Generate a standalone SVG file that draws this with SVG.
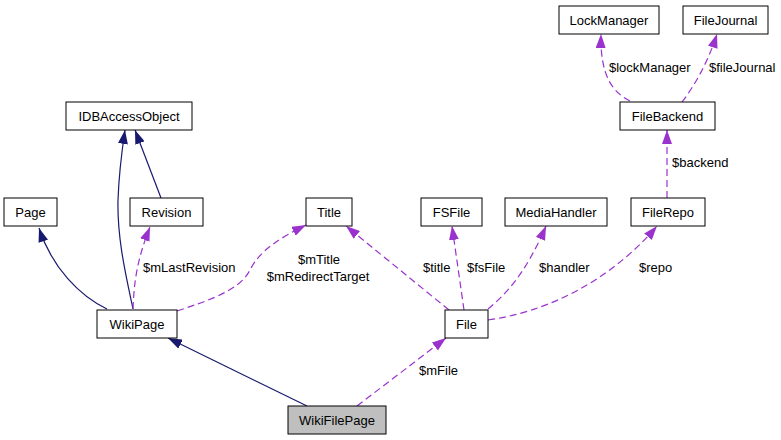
<svg xmlns="http://www.w3.org/2000/svg" width="781" height="440" viewBox="0 0 781 440">
<style>
text{font-family:"Liberation Sans",Arial,sans-serif;font-size:13px;fill:#000}
.n rect{fill:#fff;stroke:#000;stroke-width:1}
.n text{text-anchor:middle}
.inh{fill:none;stroke:#191970;stroke-width:1.2;marker-end:url(#ai)}
.use{fill:none;stroke:#9a32cd;stroke-width:1.2;stroke-dasharray:7,4;marker-end:url(#au)}
</style>
<defs>
<marker id="ai" viewBox="0 0 14 10" refX="14" refY="5" markerWidth="14" markerHeight="10" markerUnits="userSpaceOnUse" orient="auto"><path d="M0,0 L14,5 L0,10 z" fill="#191970"/></marker>
<marker id="au" viewBox="0 0 14 10" refX="14" refY="5" markerWidth="14" markerHeight="10" markerUnits="userSpaceOnUse" orient="auto"><path d="M0,0 L14,5 L0,10 z" fill="#9a32cd"/></marker>
</defs>
<rect width="781" height="440" fill="#fff"/>
<g id="edges">
<path class="inh" d="M107,309 C80,296 52,268 39,228"/>
<path class="inh" d="M133,309 C127,280 117,240 118,200 C119,170 122,150 125,130"/>
<path class="inh" d="M161,198 L135,130"/>
<path class="use" d="M133,309 C134,285 136,262 150,227"/>
<path class="use" d="M177,311 C210,300 240,290 250,270 C260,250 280,238 306,225"/>
<path class="use" d="M449,310 L346,226"/>
<path class="use" d="M464,310 L452,226"/>
<path class="use" d="M488,309 C505,295 525,275 546,226"/>
<path class="use" d="M488,320 C560,310 620,270 657,226"/>
<path class="use" d="M667,198 L667,130"/>
<path class="use" d="M630,101 C612,92 600,75 601,34"/>
<path class="use" d="M682,102 C695,85 708,62 717,34"/>
<path class="inh" d="M307,406 L168,338"/>
<path class="use" d="M357,406 L446,338"/>
<text x="609" y="71.5">$lockManager</text>
<text x="709" y="71.5">$fileJournal</text>
<text x="672" y="167">$backend</text>
<text x="143" y="272">$mLastRevision</text>
<text x="319" y="263.5" text-anchor="middle">$mTitle</text>
<text x="318" y="280.5" text-anchor="middle">$mRedirectTarget</text>
<text x="423" y="271.5">$title</text>
<text x="467" y="271.5">$fsFile</text>
<text x="539" y="271.5">$handler</text>
<text x="639" y="271.5">$repo</text>
<text x="419" y="375">$mFile</text>
</g>
<g id="IDBAccessObject" class="n"><rect x="66" y="102" width="126" height="28"/><text x="129" y="120.5">IDBAccessObject</text></g>
<g id="Page" class="n"><rect x="4" y="198" width="53" height="28"/><text x="30.5" y="216.5">Page</text></g>
<g id="Revision" class="n"><rect x="130" y="198" width="73" height="28"/><text x="166.5" y="216.5">Revision</text></g>
<g id="WikiPage" class="n"><rect x="97" y="310" width="80" height="28"/><text x="137" y="328.5">WikiPage</text></g>
<g id="Title" class="n"><rect x="306" y="198" width="46" height="28"/><text x="329" y="216.5">Title</text></g>
<g id="FSFile" class="n"><rect x="421" y="198" width="61" height="28"/><text x="451.5" y="216.5">FSFile</text></g>
<g id="MediaHandler" class="n"><rect x="505" y="198" width="102" height="28"/><text x="556" y="216.5">MediaHandler</text></g>
<g id="FileRepo" class="n"><rect x="631" y="198" width="74" height="28"/><text x="668" y="216.5">FileRepo</text></g>
<g id="File" class="n"><rect x="445" y="310" width="43" height="28"/><text x="466.5" y="328.5">File</text></g>
<g id="LockManager" class="n"><rect x="559" y="6" width="100" height="28"/><text x="609" y="24.5">LockManager</text></g>
<g id="FileJournal" class="n"><rect x="683" y="6" width="85" height="28"/><text x="725.5" y="24.5">FileJournal</text></g>
<g id="FileBackend" class="n"><rect x="620" y="102" width="95" height="28"/><text x="667.5" y="120.5">FileBackend</text></g>
<g id="WikiFilePage" class="n"><rect x="288" y="406" width="98" height="28" style="fill:#bfbfbf"/><text x="337" y="424.5">WikiFilePage</text></g>
</svg>
